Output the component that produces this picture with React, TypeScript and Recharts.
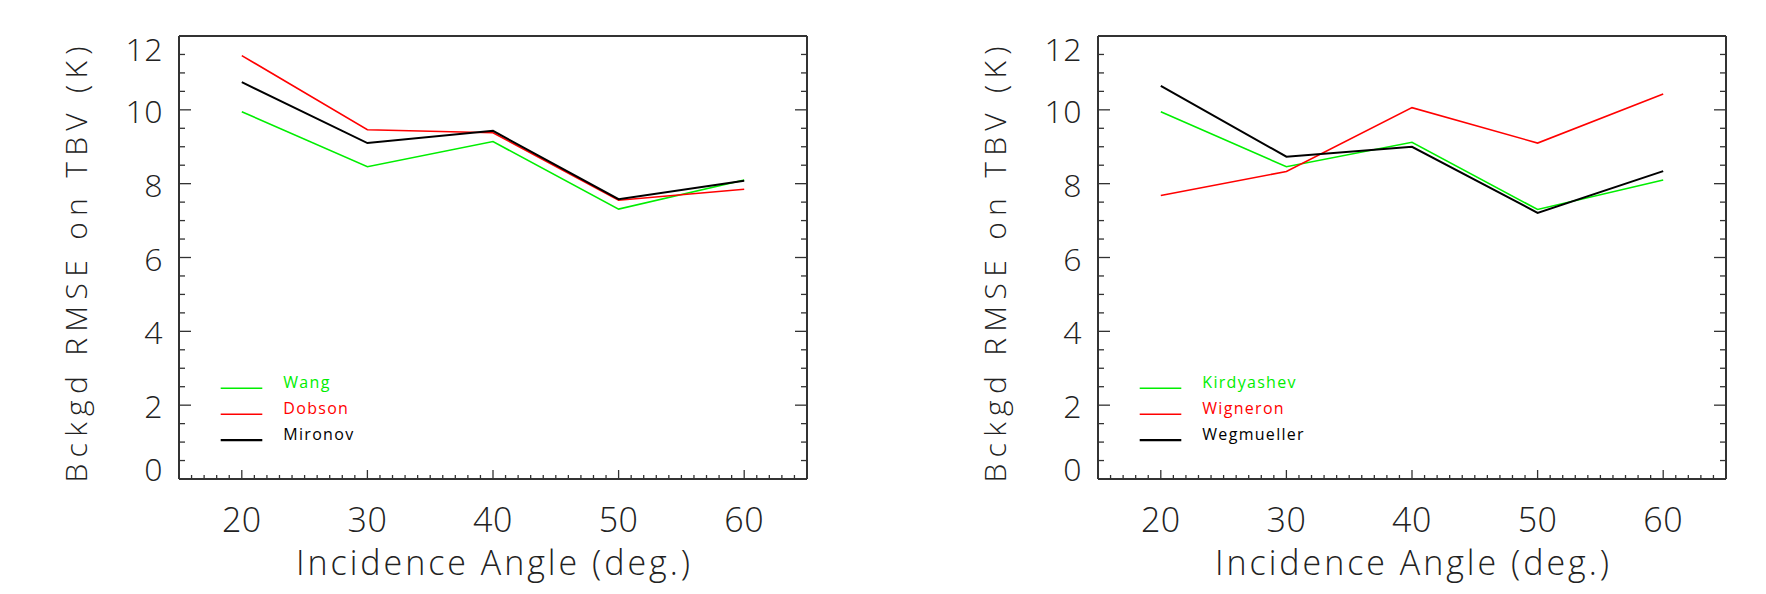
import { LineChart, Line, XAxis, YAxis, Legend, Label } from 'recharts';

// incidence angles (deg.)
const ANGLES = [20, 30, 40, 50, 60];

// left panel
const WANG = [9.95, 8.46, 9.14, 7.31, 8.1];
const DOBSON = [11.47, 9.46, 9.38, 7.55, 7.85];
const MIRONOV = [10.75, 9.1, 9.43, 7.58, 8.08];

// right panel
const KIRDYASHEV = [9.95, 8.46, 9.12, 7.3, 8.1];
const WIGNERON = [7.68, 8.33, 10.06, 9.1, 10.43];
const WEGMUELLER = [10.65, 8.73, 9.0, 7.21, 8.34];

const X_TICK_LABELS = [20, 30, 40, 50, 60];
const Y_TICK_LABELS = [0, 2, 4, 6, 8, 10, 12];
const X_DOMAIN = [15, 65];
const Y_DOMAIN = [0, 12];
const X_TITLE = 'Incidence Angle (deg.)';
const Y_TITLE = 'Bckgd RMSE on TBV (K)';

const range = (a: number, b: number, step: number) => {
  const out: number[] = [];
  for (let v = a; v <= b + 1e-9; v += step) out.push(Math.round(v * 100) / 100);
  return out;
};
const X_ALL_TICKS = range(15, 65, 1);
const Y_ALL_TICKS = range(0, 12, 0.5);

const FONT = "'Open Sans', Roboto, 'DejaVu Sans', sans-serif";
const INK = '#333';
const AXIS_LINE = { stroke: INK, strokeWidth: 2 };

type Series = { name: string; values: number[]; color: string; width: number };

const LEFT: Series[] = [
  { name: 'Wang', values: WANG, color: '#00ee00', width: 1.6 },
  { name: 'Dobson', values: DOBSON, color: '#ff0000', width: 1.6 },
  { name: 'Mironov', values: MIRONOV, color: '#000000', width: 2 },
];
const RIGHT: Series[] = [
  { name: 'Kirdyashev', values: KIRDYASHEV, color: '#00ee00', width: 1.6 },
  { name: 'Wigneron', values: WIGNERON, color: '#ff0000', width: 1.6 },
  { name: 'Wegmueller', values: WEGMUELLER, color: '#000000', width: 2 },
];

const BottomTick = (p: any) => {
  const v = p.payload.value;
  const major = X_TICK_LABELS.includes(v);
  return (
    <g>
      <line x1={p.x} x2={p.x} y1={p.y} y2={p.y - (major ? 9 : 4)} stroke={INK} strokeWidth={1.3} />
      {major && (
        <text x={p.x} y={p.y + 53} textAnchor="middle" fontFamily={FONT} fontWeight={300}
          fontSize={34} letterSpacing={0.5} fill="#222">{v}</text>
      )}
    </g>
  );
};

const TopTick = (p: any) => {
  const major = X_TICK_LABELS.includes(p.payload.value);
  return <line x1={p.x} x2={p.x} y1={p.y} y2={p.y + (major ? 9 : 4)} stroke={INK} strokeWidth={1.3} />;
};

const LeftTick = (p: any) => {
  const v = p.payload.value;
  const major = Y_TICK_LABELS.includes(v);
  const dy = v === 12 ? 25 : v === 0 ? 2 : 13;
  return (
    <g>
      <line x1={p.x} x2={p.x + (major ? 12 : 6)} y1={p.y} y2={p.y} stroke={INK} strokeWidth={1.3} />
      {major && (
        <text x={p.x - 16} y={p.y + dy} textAnchor="end" fontFamily={FONT} fontWeight={300}
          fontSize={32} letterSpacing={0.5} fill="#222">{v}</text>
      )}
    </g>
  );
};

const RightTick = (p: any) => {
  const major = Y_TICK_LABELS.includes(p.payload.value);
  return <line x1={p.x} x2={p.x - (major ? 12 : 6)} y1={p.y} y2={p.y} stroke={INK} strokeWidth={1.3} />;
};

const XTitle = (p: any) => {
  const vb = p.viewBox;
  return (
    <text x={vb.x + vb.width / 2} y={vb.y + 96} textAnchor="middle" fontFamily={FONT} fontWeight={300}
      fontSize={34} textLength={394} lengthAdjust="spacing" fill="#222">{X_TITLE}</text>
  );
};

const YTitle = (p: any) => {
  const vb = p.viewBox;
  const cx = vb.x + vb.width - 92;
  const cy = vb.y + vb.height / 2 + 7;
  return (
    <text x={cx} y={cy} transform={`rotate(-90, ${cx}, ${cy})`} textAnchor="middle" fontFamily={FONT}
      fontWeight={300} fontSize={30} textLength={436} lengthAdjust="spacing" fill="#222">{Y_TITLE}</text>
  );
};

const makeLegend = (order: string[]) => (props: any) => {
  const items = [...(props.payload || [])].sort(
    (a: any, b: any) => order.indexOf(a.value) - order.indexOf(b.value),
  );
  return (
    <svg width={260} height={80}>
      {items.map((e: any, i: number) => {
        const y = 18.3 + i * 25.9;
        return (
          <g key={e.value}>
            <line x1={10.7} x2={52.3} y1={y} y2={y} stroke={e.color}
              strokeWidth={e.color === '#000000' ? 2.4 : 1.4} />
            <text x={73.3} y={y} fontFamily={FONT} fontSize={16} letterSpacing={1.3} fill={e.color}>{e.value}</text>
          </g>
        );
      })}
    </svg>
  );
};

function Panel({ series, plotLeft }: { series: Series[]; plotLeft: number }) {
  const data = ANGLES.map((a, i) => {
    const row: Record<string, number> = { angle: a };
    series.forEach((s) => (row[s.name] = s.values[i]));
    return row;
  });
  const plotW = 628;
  const legend = makeLegend(series.map((s) => s.name));
  return (
    <LineChart width={883} height={594} data={data}
      margin={{ top: 26, bottom: 55, left: plotLeft - 60, right: 883 - plotLeft - plotW - 10 }}>
      <XAxis xAxisId="b" dataKey="angle" type="number" domain={X_DOMAIN} ticks={X_ALL_TICKS} interval={0}
        height={60} tickSize={0} tickMargin={0} tickLine={false} axisLine={AXIS_LINE}
        tick={(p: any) => <BottomTick {...p} />} allowDataOverflow>
        <Label content={XTitle} />
      </XAxis>
      <XAxis xAxisId="t" orientation="top" type="number" domain={X_DOMAIN} ticks={X_ALL_TICKS} interval={0}
        height={10} tickSize={0} tickMargin={0} tickLine={false} axisLine={AXIS_LINE}
        tick={(p: any) => <TopTick {...p} />} allowDataOverflow />
      <YAxis yAxisId="l" type="number" domain={Y_DOMAIN} ticks={Y_ALL_TICKS} interval={0}
        width={60} tickSize={0} tickMargin={0} tickLine={false} axisLine={AXIS_LINE}
        tick={(p: any) => <LeftTick {...p} />} allowDataOverflow>
        <Label content={YTitle} />
      </YAxis>
      <YAxis yAxisId="r" orientation="right" type="number" domain={Y_DOMAIN} ticks={Y_ALL_TICKS} interval={0}
        width={10} tickSize={0} tickMargin={0} tickLine={false} axisLine={AXIS_LINE}
        tick={(p: any) => <RightTick {...p} />} allowDataOverflow />
      {series.map((s) => (
        <Line key={s.name} xAxisId="b" yAxisId="l" dataKey={s.name} name={s.name} stroke={s.color}
          strokeWidth={s.width} dot={false} activeDot={false} isAnimationActive={false} />
      ))}
      <Legend layout="vertical" align="center" verticalAlign="middle" content={legend}
        wrapperStyle={{ position: 'absolute', left: plotLeft + 31, top: 370, width: 260, height: 80 }} />
    </LineChart>
  );
}

export default function App() {
  return (
    <div style={{ position: 'absolute', left: 0, top: 0, width: 1766, height: 594, background: '#fff', display: 'flex' }}>
      <Panel series={LEFT} plotLeft={179} />
      <Panel series={RIGHT} plotLeft={215} />
    </div>
  );
}
